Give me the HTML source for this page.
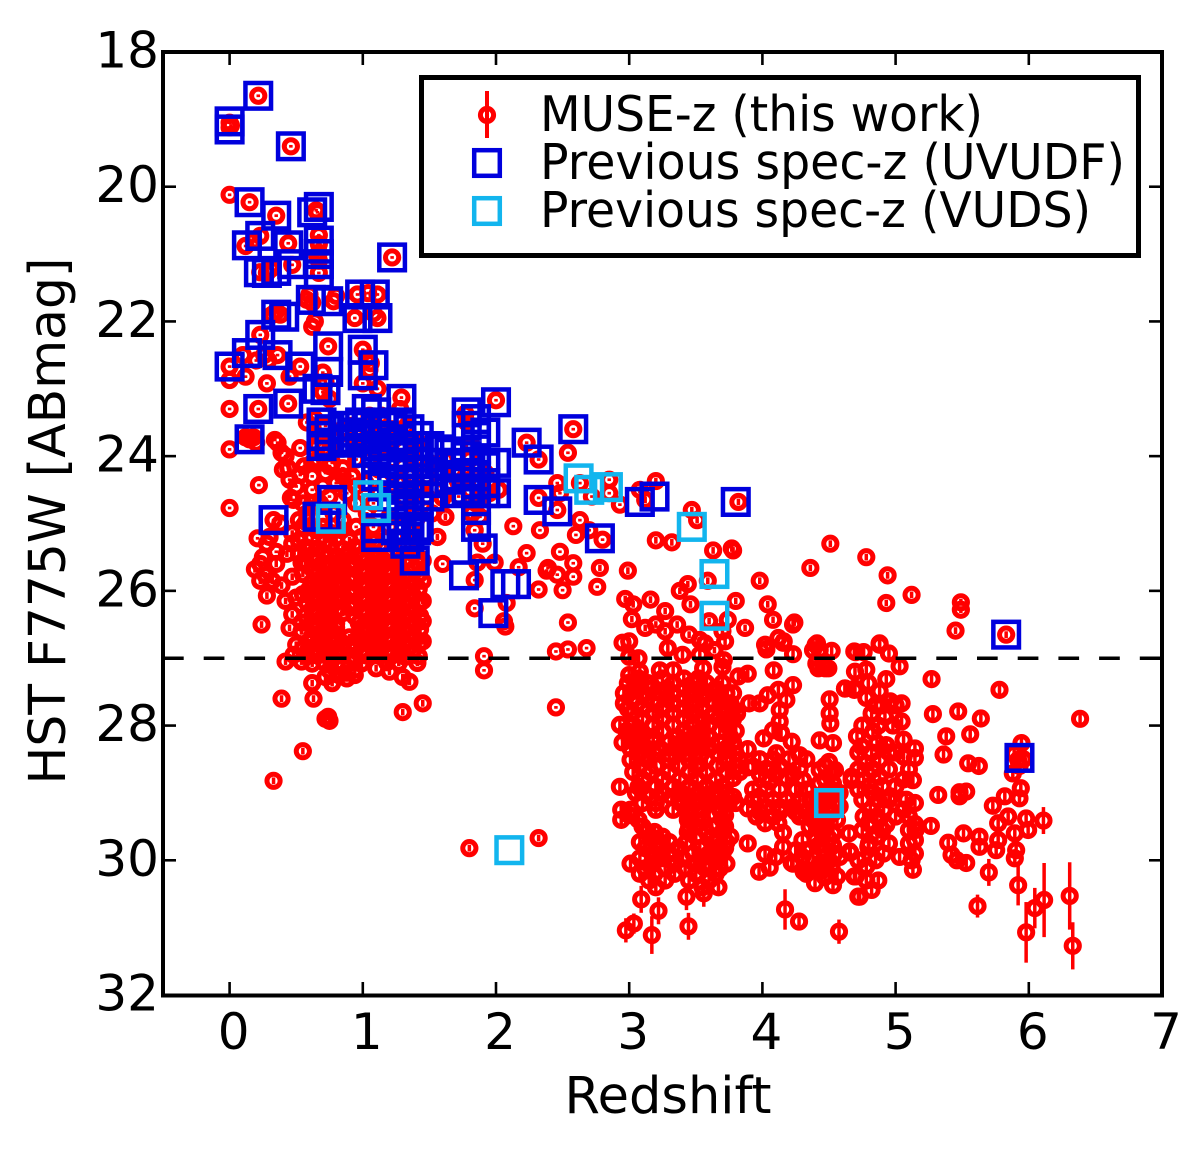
<!DOCTYPE html>
<html>
<head>
<meta charset="utf-8">
<style>
html,body{margin:0;padding:0;background:#fff;}
svg{display:block;}
text{font-family:"DejaVu Sans",sans-serif;fill:#000;}
</style>
</head>
<body>
<svg id="chart" xmlns="http://www.w3.org/2000/svg" width="1200" height="1150" viewBox="0 0 1200 1150">
<rect x="0" y="0" width="1200" height="1150" fill="#fff"/>
<g id="muse"></g>
<g id="uvudf"></g>
<g id="vuds"></g>
<g id="limit"></g>
<g id="axes"></g>
<text x="668" y="1113" font-size="51" text-anchor="middle" textLength="207" lengthAdjust="spacingAndGlyphs">Redshift</text>
<text transform="translate(65,521) rotate(-90)" font-size="51" text-anchor="middle" textLength="527" lengthAdjust="spacingAndGlyphs">HST F775W [ABmag]</text>
<g>
<rect x="421.5" y="77.5" width="717" height="178" fill="#fff" stroke="#000" stroke-width="5"/>
<g>
<line x1="487" y1="91" x2="487" y2="138" stroke="#f00" stroke-width="4"/>
<circle cx="487" cy="115" r="6.6" fill="none" stroke="#f00" stroke-width="5"/>
<text x="540" y="131" font-size="49" textLength="443" lengthAdjust="spacingAndGlyphs">MUSE-z (this work)</text>
</g>
<g>
<rect x="474.2" y="150.2" width="25.6" height="25.6" fill="none" stroke="#0000dd" stroke-width="4.5"/>
<text x="540" y="179" font-size="49" textLength="585" lengthAdjust="spacingAndGlyphs">Previous spec-z (UVUDF)</text>
</g>
<g>
<rect x="474.2" y="198.2" width="25.6" height="25.6" fill="none" stroke="#12b5ee" stroke-width="4.5"/>
<text x="540" y="227" font-size="49" textLength="551" lengthAdjust="spacingAndGlyphs">Previous spec-z (VUDS)</text>
</g>
</g>
</svg>
<script>
const xTicks = [0,1,2,3,4,5,6,7];
const yTicks = [18,20,22,24,26,28,30,32];
const magLimit = [27];
const xDomain = [-0.5,7];
const yDomain = [18,32];

// MUSE-z points [redshift, magnitude, optional error]
const museBright = [[.215,18.65],[0,19.05],[0,19.12],[.01,19.09],[.46,19.4],[0,20.12],[.15,20.23],[.35,20.43],[.65,20.35],[.66,20.38],[.23,20.73],[.18,20.8],[.12,20.88],[.44,20.84],[.67,20.72],[.67,20.85],[.67,20.98],[.66,21.03],[.67,21.1],[.67,21.28],[.47,21.16],[.23,21.27],[.28,21.28],[.31,21.22],[1.22,21.05],[.58,21.68],[.6,21.6],[.62,21.72],[.78,21.7],[.8,21.62],[.96,21.6],[1.04,21.58],[1.11,21.6],[.94,21.95],[1.11,21.95],[1.08,21.88],[.38,21.9],[.32,21.9],[.35,21.85],[.62,22.08],[.64,22],[.74,22.37],[1,22.42],[.23,22.2],[.1,22.5],[.36,22.5],[.2,22.58],[.29,22.58],[.26,22.5],[.53,22.67],[0,22.67],[0,22.87],[.12,22.82],[.28,22.92],[.45,22.82],[.7,22.76],[.7,23.05],[.72,22.9],[.75,23.15],[1.05,22.72],[1.06,22.62],[1.03,22.55],[1,22.92],[1.11,23],[1.29,23.13],[2,23.17],[0,23.3],[.215,23.3],[.44,23.22],[0,23.9],[.15,23.75],[.34,23.76],[.18,23.72],[.22,24.43],[0,24.77],[.33,24.95],[.21,25.22],[.53,24.28],[.44,24.18],[.85,24.18],[.77,24.1],[.53,23.88],[.4,24.2],[.42,24],[.45,24.35],[.5,24.45],[.38,25],[.3,25.2],[.28,25.3],[.35,25.42],[.25,25.5],[2.58,23.6],[1.77,23.37],[.36,23.8],[.39,23.95],[.12,23.72],[.2,23.8]];
const museCluster = [[.58,23.5],[.66,23.7],[.7,23.9],[.62,24.1],[.72,24.25],[.8,24.4],[.62,24.5],[.55,24.7],[.68,24.7],[.78,24.85],[.88,24.55],[.58,24.95],[.7,25.05],[.85,24.95],[.95,25.05],[.95,24.7],[1.02,24.4],[.92,24.3],[.85,23.6],[.98,23.7],[1.05,23.4],[1.1,23.7],[1.15,24.05],[1.22,23.6],[1.28,23.3],[1.3,23.9],[1.35,24.3],[1.42,23.8],[1.4,24.7],[1.3,24.6],[1.2,24.9],[1.12,24.55],[1.5,24.1],[1.55,24.5],[1.6,24.62],[1.62,24.9],[1.56,25.2],[1.7,24.2],[1.78,23.5],[1.82,23.85],[1.85,24.2],[1.8,24.5],[1.9,24.6],[1.95,24.4],[1.88,24.9],[1.84,25.1],[1.9,25.3],[2.02,24.5],[1.72,24.6],[1.25,25.2],[1.38,25.1],[1.42,25.5],[1.1,25.25],[1.6,25.6],[2.23,23.8],[2.32,24.05],[2.54,23.95],[2.46,24.4],[2.63,24.4],[2.32,24.62],[2.46,24.8],[2.13,25.04],[2.33,25.1],[2.6,25.17],[2.48,25.42],[2.23,25.44],[1.99,25.58],[1.86,25.58],[2.17,25.65],[2.39,25.66],[2.58,25.59],[2.46,25.76],[2.58,25.79],[2.5,25.99],[2.32,25.98],[2.76,25.94],[1.84,25.84],[2.08,26.18],[1.84,26.26],[2.07,26.53],[2.06,26.45],[2.54,26.47],[2.45,26.9],[2.54,26.87],[2.68,26.85],[1.91,26.97],[1.91,27.18],[2.45,27.73],[2.38,25.7],[2.48,24.55],[2.72,24.6],[2.85,24.55],[2.93,24.72],[2.8,25.24],[2.63,24.95],[2.7,25.1],[2.85,24.35]];
const museClusterFill = [[.64,23.45],[.72,23.55],[.78,23.72],[.66,23.85],[.75,23.95],[.86,23.85],[.92,23.55],[.95,23.85],[1.02,23.55],[1.07,23.85],[1.14,23.4],[1.18,23.6],[1.18,23.85],[1.27,23.7],[1.33,23.55],[1.37,23.8],[1.4,24.05],[1.3,24.15],[1.22,24.25],[1.12,24.2],[1.05,24.05],[.95,24.05],[.62,24.3],[.7,24.45],[.85,24.3],[.95,24.45],[1.08,24.7],[1.22,24.5],[1.3,24.4],[1.42,24.45],[1.48,24.3],[1.3,24.85],[1.4,24.95],[1.2,25.05],[1.08,25.05],[1.3,25.05],[1.03,24.85],[.62,24.7],[.75,24.6],[.48,24.65],[.52,24.95],[1.58,24.2],[1.66,24.4],[1.62,24.05],[1.75,24.35],[1.8,24.05],[1.78,24.25],[1.88,24.4],[1.85,24.7],[1.82,24.85],[1.92,24.25],[1.48,24.6],[1.52,24.85],[1.72,24.4],[1.95,24.55],[.56,24.15],[.66,24.05],[.75,24.15]];
const museDense = [[.52,25.25],[.62,25.22],[.71,25.28],[.8,25.22],[.9,25.25],[.99,25.2],[1.08,25.28],[.57,25.35],[.66,25.37],[.76,25.33],[.85,25.38],[.94,25.35],[1.03,25.38],[1.13,25.34],[1.22,25.4],[1.32,25.36],[.52,25.46],[.62,25.47],[.71,25.44],[.8,25.48],[.9,25.45],[.99,25.47],[1.08,25.45],[1.18,25.48],[1.27,25.46],[1.38,25.45],[.57,25.56],[.66,25.55],[.76,25.58],[.85,25.56],[.94,25.58],[1.03,25.55],[1.13,25.57],[1.22,25.58],[1.32,25.56],[1.42,25.6],[.62,25.67],[.71,25.65],[.8,25.68],[.9,25.66],[.99,25.67],[1.08,25.65],[1.18,25.68],[1.27,25.66],[1.38,25.68],[.55,25.75],[.66,25.76],[.76,25.78],[.85,25.76],[.94,25.78],[1.03,25.75],[1.13,25.78],[1.22,25.76],[1.32,25.78],[1.42,25.76],[.62,25.87],[.71,25.86],[.8,25.88],[.9,25.85],[.99,25.88],[1.08,25.86],[1.18,25.88],[1.27,25.86],[1.38,25.88],[.6,25.97],[.66,25.96],[.76,25.98],[.85,25.95],[.94,25.98],[1.03,25.96],[1.13,25.98],[1.22,25.96],[1.32,25.98],[1.42,25.97],[.55,26.05],[.62,26.07],[.71,26.06],[.8,26.08],[.9,26.05],[.99,26.08],[1.08,26.06],[1.18,26.08],[1.27,26.06],[1.38,26.08],[.58,26.17],[.66,26.16],[.76,26.18],[.85,26.15],[.94,26.18],[1.03,26.16],[1.13,26.18],[1.22,26.16],[1.32,26.18],[1.42,26.17],[.62,26.27],[.71,26.26],[.8,26.28],[.9,26.25],[.99,26.28],[1.08,26.26],[1.18,26.28],[1.27,26.26],[1.38,26.28],[.57,26.37],[.66,26.36],[.76,26.38],[.85,26.33],[.94,26.38],[1.03,26.36],[1.13,26.38],[1.22,26.36],[1.32,26.38],[1.43,26.37],[.54,26.47],[.62,26.47],[.71,26.46],[.8,26.48],[.97,26.48],[1.08,26.46],[1.18,26.48],[1.27,26.46],[1.38,26.48],[.66,26.56],[.76,26.58],[.8,26.55],[1,26.58],[1.03,26.56],[1.13,26.58],[1.22,26.56],[1.32,26.58],[1.43,26.57],[.54,26.6],[.62,26.67],[.71,26.66],[.8,26.68],[.9,26.69],[.97,26.68],[1.08,26.66],[1.18,26.68],[1.27,26.66],[1.38,26.68],[.6,26.76],[.66,26.78],[.76,26.77],[.85,26.78],[.94,26.78],[1.03,26.76],[1.13,26.78],[1.22,26.76],[1.32,26.78],[1.43,26.77],[.55,26.86],[.62,26.88],[.71,26.86],[.8,26.88],[.9,26.85],[.99,26.88],[1.08,26.86],[1.18,26.88],[1.27,26.86],[1.38,26.88],[.48,26.95],[.58,26.97],[.66,26.96],[.76,26.98],[.85,26.95],[.94,26.98],[1.03,26.96],[1.13,26.97],[1.22,26.96],[1.32,26.98],[1.42,26.97],[.42,27.05],[.54,27.05],[.62,27.08],[.71,27.06],[.8,27.09],[.9,27.06],[.99,27.08],[1.18,27.06],[1.27,27.07],[1.41,27.07],[.85,27.13],[.94,27.17],[.75,27.18],[.62,27.37],[.77,27.37],[.72,27.28],[.94,27.25],[1.2,27.2],[1.35,27.35],[1.3,27.28],[.39,27.6],[.63,27.6],[.74,27.87],[.75,27.93],[.72,27.9],[1.3,27.8],[1.45,27.67],[.55,28.38],[.33,28.82],[.55,25.05],[.65,25.1],[.74,25.12],[.84,25.1],[.47,25.15],[.58,24.85],[.46,24.62],[.24,26.5],[.54,26.6],[.28,26.07],[.42,26.15],[.39,25.92],[.23,25.6],[.27,25.77],[.19,25.68],[.23,25.85],[.47,25.79],[.54,25.58],[.43,25.45],[.47,25.3],[1.56,25.2],[1.62,24.9],[1.45,25.55],[1.45,25.85],[1.45,26.15],[1.45,26.45],[1.45,26.75],[1.8,29.82],[2.32,29.67],[.5,26.1],[.47,26.35],[.35,25.6],[.32,25.85],[.45,26.55],[.5,26.8],[.82,27.25],[.88,27.3],[1.1,27.15]];
const museMid = [[4.51,25.3],[4.78,25.5],[4.36,25.66],[4.94,25.77],[3.98,25.85],[5.12,26.06],[4.93,26.18],[5.49,26.17],[5.49,26.28],[5.45,26.59],[5.83,26.65],[4.04,26.2],[4.08,26.43],[4.24,26.47],[4.12,26.7],[4.02,26.8],[4.4,26.8],[4.43,26.88],[4.88,26.8],[3.78,25.4],[3.87,26.55],[3.74,26.43],[2.99,25.7],[2.78,25.66],[2.97,26.12],[3.03,26.2],[3.16,26.13],[3.27,26.3],[3.2,26.5],[3,26.75],[3.27,26.6],[3.38,26],[3.44,25.9],[3.46,26.2],[3.53,26.73],[3.59,25.85],[3.8,26.15],[3.64,26.88],[3.2,24.37],[3.12,24.65],[3.2,25.25],[3.32,25.28],[3.47,24.8],[3.51,24.95],[3.63,25.4],[3.77,25.37],[3.82,24.68],[3.08,24.5],[3.02,26.42],[3.12,26.55],[3.36,26.5],[3.6,26.45],[3.45,26.65],[3.7,26.6]];
const museHigh = [[2.95,26.77],[3.29,26.85],[3.57,26.78],[3.72,26.75],[4.03,26.87],[4.155,26.77],[4.23,26.94],[4.52,26.89],[4.38,26.88],[4.69,26.9],[3,26.98],[3.07,27],[3.4,26.95],[3.53,26.95],[3.71,27.03],[3,27.25],[3.08,27.2],[3.23,27.18],[3.33,27.18],[3.555,27.15],[3.7,27.13],[3.82,27.27],[3.89,27.23],[4.085,27.18],[4.405,27.08],[4.47,27.15],
[2.99,27.37],[3.14,27.37],[3.33,27.37],[3.48,27.37],[3.58,27.37],[3.7,27.37],[2.96,27.52],[3.1,27.52],[3.23,27.52],[3.33,27.52],[3.48,27.52],[3.58,27.52],[3.73,27.52],[3.78,27.52],[2.96,27.67],[3.06,27.67],[3.18,27.67],[3.33,27.67],[3.48,27.67],[3.63,27.67],[3.76,27.67],[3.9,27.67],[3.98,27.67],[3.02,27.82],[3.18,27.82],[3.33,27.82],[3.48,27.82],[3.63,27.82],[3.73,27.82],[3.81,27.82],[2.93,27.99],[3.03,27.99],[3.18,27.99],[3.33,27.99],[3.48,27.99],[3.6,27.99],[3.73,27.99],[3,28.17],[3.1,28.15],[3.18,28.17],[3.36,28.17],[3.48,28.17],[3.6,28.17],[3.76,28.17],[3.01,28.34],[3.13,28.34],[3.23,28.34],[3.36,28.34],[3.48,28.34],[3.6,28.34],[3.73,28.34],[3.89,28.35],[3.01,28.51],[3.14,28.51],[3.3,28.51],[3.45,28.51],[3.58,28.51],[3.73,28.51],[3.83,28.51],[3.03,28.69],[3.16,28.69],[3.3,28.69],[3.45,28.69],[3.58,28.69],[3.73,28.69],[3.83,28.69],[2.93,28.91],[3.07,28.91],[3.2,28.91],[3.33,28.91],[3.45,28.91],[3.58,28.91],[3.7,28.91],[3.16,29.06],[3.32,29.06],[3.45,29.06],[3.58,29.06],[3.68,29.06],[3.78,29.06],[2.94,29.25],[3.01,29.25],[3.2,29.25],[3.33,29.25],[3.44,29.25],[3.55,29.25],[3.68,29.25],[2.94,29.4],[3.07,29.4],[3.44,29.4],[3.55,29.4],[3.7,29.4],[3.13,29.58],[3.19,29.58],[3.44,29.58],[3.58,29.58],[3.7,29.58],[3.08,29.73],[3.2,29.73],[3.3,29.73],[3.43,29.73],[3.66,29.73],[3.73,29.73],[3.18,29.9],[3.3,29.9],[3.48,29.9],[3.6,29.9],[3.7,29.9],[3.01,30.05],[3.18,30.05],[3.34,30.05],[3.49,30.05],[3.6,30.05],[3.73,30.05],[3.08,30.2],[3.19,30.2],[3.34,30.2],[3.5,30.2],[3.65,30.2],[3.2,30.4],[3.55,30.4],[3.67,30.4],
[3.89,28.62],[4.01,28.19],[4.08,28.07],[4.12,27.47],[4.04,27.55],[4.23,27.4],[4.18,27.62],[4.13,27.77],[4.13,27.94],[4.14,28.11],[4.22,28.24],[4.105,28.41],[4.28,28.44],[3.93,28.61],[4.03,28.64],[4.13,28.6],[4.28,28.64],[4.055,28.83],[4.18,28.78],[4.305,28.81],[3.97,29.06],[3.89,29.23],[4.03,29.21],[4.13,29.21],[4.23,29.21],[3.955,29.35],[4.08,29.35],[4.28,29.35],[4.355,29.5],[4.155,29.59],[3.89,29.75],[4.155,29.8],[4.02,29.91],[4.23,30.05],[4.055,30.11],[3.975,30.17],[4.33,30.2],[4.505,27.61],[4.505,27.82],[4.51,27.97],[4.43,28.22],[4.53,28.26],[4.5,28.54],[4.62,27.45],[4.69,27.47],
[4.43,28.66],[4.545,28.66],[4.43,28.86],[4.53,28.86],[4.43,29.05],[4.5,29.05],[4.58,29],[4.4,29.2],[4.5,29.2],[4.58,29.2],[4.38,29.4],[4.48,29.4],[4.56,29.4],[4.45,29.6],[4.53,29.6],[4.65,29.6],[4.42,29.78],[4.53,29.78],[4.655,29.87],[4.38,29.97],[4.5,30],[4.58,29.95],[4.22,30.04],[4.31,30.17],[4.395,30.34],[4.53,30.37],[4.56,30.24],[4.45,30.15],[4.69,30.24],[4.72,30.54],[4.67,28.81],[4.23,26.5],[4.16,26.75],[4.41,26.78],[4.42,27.15],[4.495,27.15],[4.7,26.91],[4.76,26.91],[4.88,26.78],[4.95,26.93],[5.03,27.12],[4.695,27.2],[4.78,27.17],[4.93,27.31],[4.62,27.45],[4.695,27.45],[4.795,27.37],[4.88,27.49],[4.78,27.59],[4.96,27.64],[5.045,27.67],[4.82,27.82],[4.92,27.87],[5.045,27.94],[4.71,28.16],[4.745,28.31],[4.83,28.09],[4.93,28.29],[4.86,28.26],[5.06,28.21],[5.145,28.34],[5.06,28.46],[5.145,28.48],[4.78,28.56],[4.88,28.51],[4.67,28.76],[4.76,28.81],[4.88,28.76],[5.06,28.8],[5.13,28.81],[4.72,28.95],[4.83,29],[4.96,29.05],[5.08,29.1],[5.145,29.15],[5.06,29.25],[4.81,29.25],[4.91,29.25],[5.145,29.46],[5.265,29.49],[4.795,29.45],[4.93,29.47],[4.86,29.65],[5.145,29.7],[4.66,29.885],[4.795,29.8],[4.91,29.9],[5.03,29.95],[5.145,29.9],[5.13,30.14],[4.78,30.09],[4.7,30.24],[4.82,30.44],[4.73,30.54],
[5.32,29.03],[5.48,28.99],[5.53,28.98],[5.48,29.05],[5.27,27.31],[5.78,27.47],[5.28,27.83],[5.47,27.79],[5.64,27.895],[5.38,28.16],[5.56,28.13],[5.36,28.43],[5.545,28.56],[5.625,28.6],[6.385,27.9],[5.945,28.26],[5.92,28.51],[5.89,28.42],[5.93,28.6],[5.96,28.5],[5.88,28.71],[5.94,28.93],[5.82,29.05],[5.93,29.08],[5.73,29.19],[5.845,29.35],[5.98,29.38],[5.77,29.45],[5.995,29.55],[5.895,29.6],[5.395,29.74],[5.51,29.6],[5.63,29.65],[5.63,29.8],[5.77,29.7],[5.755,29.85],[5.905,29.85],[5.895,29.97],[5.42,29.92],[5.53,30.04],[5.46,30]];
const museHighFill = [[3.07,27.3],[3.25,27.3],[3.41,27.3],[3.52,27.3],[3.04,27.45],[3.17,27.45],[3.28,27.45],[3.41,27.45],[3.53,27.45],[3.65,27.45],[3.02,27.6],[3.13,27.6],[3.28,27.6],[3.41,27.6],[3.55,27.6],[3.68,27.6],[2.99,27.75],[3.1,27.75],[3.25,27.75],[3.41,27.75],[3.55,27.75],[3.68,27.75],[3.78,27.75],[3.1,27.9],[3.25,27.9],[3.41,27.9],[3.55,27.9],[3.67,27.9],[3.78,27.9],[2.98,28.08],[3.08,28.08],[3.25,28.08],[3.41,28.08],[3.54,28.08],[3.68,28.08],[3.8,28.08],[2.95,28.25],[3.07,28.25],[3.18,28.25],[3.3,28.25],[3.42,28.25],[3.54,28.25],[3.67,28.25],[3.78,28.25],[3.07,28.42],[3.19,28.42],[3.3,28.42],[3.42,28.42],[3.54,28.42],[3.67,28.42],[3.8,28.42],[3.08,28.6],[3.2,28.6],[3.37,28.6],[3.51,28.6],[3.66,28.6],[3.8,28.6],[3.1,28.8],[3.25,28.8],[3.38,28.8],[3.51,28.8],[3.65,28.8],[3.78,28.78],[3.05,29],[3.25,29],[3.39,29],[3.52,29],[3.63,29],[3.73,29],[3.1,29.15],[3.2,29.15],[3.39,29.15],[3.5,29.15],[3.62,29.15],[3.73,29.15],[3.8,29.15],[3,29.33],[3.45,29.33],[3.6,29.33],[3.72,29.33],[3.1,29.5],[3.45,29.5],[3.5,29.5],[3.62,29.5],[3.72,29.5],[3.16,29.65],[3.25,29.65],[3.5,29.65],[3.62,29.65],[3.76,29.65],[3.12,29.82],[3.24,29.82],[3.37,29.82],[3.53,29.82],[3.65,29.82],[3.72,29.82],[3.08,29.97],[3.24,29.97],[3.4,29.97],[3.54,29.97],[3.65,29.97],[3.12,30.12],[3.27,30.12],[3.42,30.12],[3.57,30.12],[3.68,30.12],[3.15,30.3],[3.27,30.3],[3.45,30.3],[3.6,30.3],
[3.98,28.5],[4.08,28.5],[4.2,28.5],[4.33,28.5],[3.98,28.72],[4.1,28.72],[4.23,28.72],[3.93,28.95],[4.03,28.95],[4.13,28.95],[4.25,28.95],[4.33,28.95],[3.93,29.1],[4.08,29.1],[4.18,29.1],[4.28,29.1],[4.36,29.1],[3.98,29.28],[4.13,29.28],[4.25,29.28],[4.33,29.28],[4.4,29.28],[4.02,29.45],[4.12,29.45],[4.4,29.45],[4.3,29.7],[4.4,29.7],[4.25,29.85],[4.32,29.85],[4.3,29.95],[4.1,29.95],
[4.47,28.6],[4.52,28.7],[4.47,28.8],[4.52,28.95],[4.47,29.12],[4.53,29.3],[4.46,29.5],[4.5,29.68],[4.47,29.85],[4.54,29.9],[4.43,30.05],[4.52,30.12],[4.47,30.25],
[4.85,27.7],[4.9,27.7],[5,27.7],[4.75,28],[4.87,28],[4.98,28],[4.72,28.4],[4.82,28.4],[4.95,28.4],[5,28.4],[4.72,28.65],[4.83,28.65],[4.95,28.65],[5.1,28.65],[4.8,28.9],[4.9,28.9],[5,28.9],[4.75,29.1],[4.87,29.1],[4.95,29.1],[4.76,29.35],[4.86,29.35],[5,29.35],[5.1,29.35],[4.75,29.55],[4.9,29.55],[5.1,29.55],[5.15,29.55],[4.8,29.75],[4.95,29.75],[5.1,29.75],[4.72,30],[4.85,30],[5.12,30],[4.78,30.3],[4.87,30.3]];
const museLargeErr = [[3.09,30.58,.2],[3.43,30.54,.2],[3.56,30.49,.2],[3.22,30.75,.2],[2.975,31.04,.18],[3.035,30.94,.15],[3.17,31.11,.28],[3.445,30.98,.2],[4.17,30.73,.3],[4.275,30.91,.13],[4.575,31.06,.18],[5.7,30.18,.2],[5.92,30.37,.3],[5.615,30.68,.17],[5.98,31.07,.45],[6.045,30.71,.3],[6.115,30.59,.55],[6.11,29.41,.2],[6.307,30.53,.5],[6.33,31.27,.35]];

// Previous spec-z squares [redshift, magnitude]
const uvudfPoints = [[.215,18.65],[0,19.03],[0,19.15],[.46,19.4],[.15,20.23],[.35,20.43],[.67,20.3],[.62,20.38],[.23,20.73],[.13,20.87],[.44,20.87],[.67,20.8],[.67,21],[.67,21.15],[.67,21.3],[.47,21.15],[.22,21.27],[.28,21.28],[.35,21.25],[1.22,21.05],[.61,21.68],[.74,21.7],[.98,21.6],[1.09,21.6],[.35,21.9],[.41,21.93],[.96,21.95],[1.11,21.95],[.23,22.2],[.13,22.47],[.36,22.5],[.53,22.67],[0,22.67],[.74,22.37],[1,22.42],[1,22.8],[1.08,22.65],[.74,22.75],[.66,23],[.72,23.02],[1.29,23.15],[2,23.2],[.215,23.3],[.44,23.22],[.15,23.75],[.33,24.95],[.77,24.65],[.66,24.9],[.69,23.5],[.69,23.7],[.69,23.85],[.75,23.6],[.75,23.8],[.85,23.55],[.85,23.75],[.92,23.65],[.92,23.8],[.98,23.5],[.98,23.7],[1.03,23.3],[1.03,23.55],[1.03,23.75],[1.03,23.95],[1.1,23.35],[1.1,23.6],[1.1,23.85],[1.1,24.05],[1.1,24.3],[1.15,23.5],[1.15,23.7],[1.15,24],[1.15,24.2],[1.15,24.45],[1.22,23.55],[1.22,23.8],[1.22,24.1],[1.22,24.35],[1.22,24.6],[1.29,23.5],[1.29,23.75],[1.29,24],[1.29,24.25],[1.29,24.5],[1.29,24.8],[1.29,25.05],[1.35,23.6],[1.35,23.85],[1.35,24.1],[1.35,24.4],[1.35,24.7],[1.35,24.95],[1.35,25.2],[1.42,23.7],[1.42,23.95],[1.42,24.2],[1.42,24.5],[1.42,24.75],[1.42,25.05],[1.5,23.85],[1.5,24.1],[1.5,24.4],[1.5,24.6],[1.58,23.9],[1.58,24.1],[1.65,23.95],[1.65,24.15],[1.65,24.35],[1.72,24.1],[1.72,24.3],[1.72,24.55],[1.78,23.35],[1.78,23.55],[1.78,24],[1.78,24.25],[1.78,24.5],[1.85,23.45],[1.85,23.7],[1.85,23.9],[1.85,24.1],[1.85,24.3],[1.85,24.55],[1.85,24.8],[1.85,25.05],[1.92,23.65],[1.92,24.15],[1.92,24.4],[1.92,24.55],[2,24.1],[2,24.55],[1.25,25.1],[1.4,25.1],[1.32,25.3],[1.1,25.2],[1.1,25.07],[1.39,25.55],[2.58,23.6],[2.23,23.8],[2.32,24.05],[2.32,24.65],[2.46,24.82],[2.78,25.22],[1.9,25.37],[1.76,25.77],[2.07,25.9],[2.15,25.9],[1.98,26.33],[5.83,26.65],[5.93,28.48],[3.19,24.6],[3.08,24.68],[3.8,24.68],[.72,24.9]];
const vudsPoints = [[1.04,24.58],[1.1,24.77],[.76,24.93],[2.62,24.33],[2.7,24.5],[2.84,24.46],[3.47,25.05],[3.64,25.75],[3.64,26.37],[4.5,29.15],[2.1,29.85]];

const defaultErrBright = 0.02;
const defaultErrDense = 0.05;
const defaultErrFaint = 0.12;

const NS = 'http://www.w3.org/2000/svg';
const plot = {left:163, right:1162, top:52, bottom:995};
function xScale(z){ return plot.left + (z - xDomain[0]) / (xDomain[1] - xDomain[0]) * (plot.right - plot.left); }
function yScale(m){ return plot.top + (m - yDomain[0]) / (yDomain[1] - yDomain[0]) * (plot.bottom - plot.top); }
function mk(tag, attrs, parent){
  const el = document.createElementNS(NS, tag);
  for (const k in attrs) el.setAttribute(k, attrs[k]);
  parent.appendChild(el);
  return el;
}

const museLayer = document.getElementById('muse');
function drawMuse(points, defaultErr){
  points.forEach(function(p){
    const err = p.length > 2 ? p[2] : defaultErr;
    const x = xScale(p[0]);
    const bar = mk('line', {x1:x, x2:x, y1:yScale(p[1]-err), y2:yScale(p[1]+err), stroke:'#f00', 'stroke-width':3.5}, museLayer);
    
    
    const c = mk('circle', {cx:x, cy:yScale(p[1]), r:6.6, fill:'none', stroke:'#f00', 'stroke-width':5}, museLayer);
    
    
  });
}
drawMuse(museBright, defaultErrBright);
drawMuse(museCluster, defaultErrBright);
drawMuse(museClusterFill, defaultErrBright);
drawMuse(museDense, defaultErrDense);
drawMuse(museMid, defaultErrDense);
drawMuse(museHigh, defaultErrFaint);
drawMuse(museHighFill, defaultErrFaint);
drawMuse(museLargeErr, defaultErrFaint);

const uvudfLayer = document.getElementById('uvudf');
uvudfPoints.forEach(function(p){
  const r = mk('rect', {x:xScale(p[0])-12.8, y:yScale(p[1])-12.8, width:25.6, height:25.6, fill:'none', stroke:'#0000dd', 'stroke-width':4.5}, uvudfLayer);
  
  
});
const vudsLayer = document.getElementById('vuds');
vudsPoints.forEach(function(p){
  const r = mk('rect', {x:xScale(p[0])-12.8, y:yScale(p[1])-12.8, width:25.6, height:25.6, fill:'none', stroke:'#12b5ee', 'stroke-width':4.5}, vudsLayer);
  
  
});

const limitLayer = document.getElementById('limit');
magLimit.forEach(function(m){
  const l = mk('line', {x1:plot.left, x2:plot.right, y1:yScale(m), y2:yScale(m), stroke:'#000', 'stroke-width':3.5, 'stroke-dasharray':'20.7 20'}, limitLayer);
  
  
});

const axes = document.getElementById('axes');
const frame = mk('rect', {x:plot.left, y:plot.top, width:plot.right-plot.left, height:plot.bottom-plot.top+0.5, fill:'none', stroke:'#000', 'stroke-width':4}, axes);


const tickLen = 13;
xTicks.forEach(function(t){
  const x = xScale(t);
  const b = mk('line', {x1:x, x2:x, y1:plot.bottom, y2:plot.bottom-tickLen, stroke:'#000', 'stroke-width':2.6}, axes);
  
  
  const u = mk('line', {x1:x, x2:x, y1:plot.top, y2:plot.top+tickLen, stroke:'#000', 'stroke-width':2.6}, axes);
  
  
  const lab = mk('text', {x:x+4, y:1049, 'font-size':50, 'text-anchor':'middle'}, axes);
  lab.textContent = t;
  
  
});
yTicks.forEach(function(t){
  const y = yScale(t);
  const a = mk('line', {x1:plot.left, x2:plot.left+tickLen, y1:y, y2:y, stroke:'#000', 'stroke-width':2.6}, axes);
  
  
  const b = mk('line', {x1:plot.right, x2:plot.right-tickLen, y1:y, y2:y, stroke:'#000', 'stroke-width':2.6}, axes);
  
  
  const lab = mk('text', {x:plot.left-4, y:y+15.5, 'font-size':50, 'text-anchor':'end'}, axes);
  lab.textContent = t;
  
  
});
</script>
</body>
</html>
